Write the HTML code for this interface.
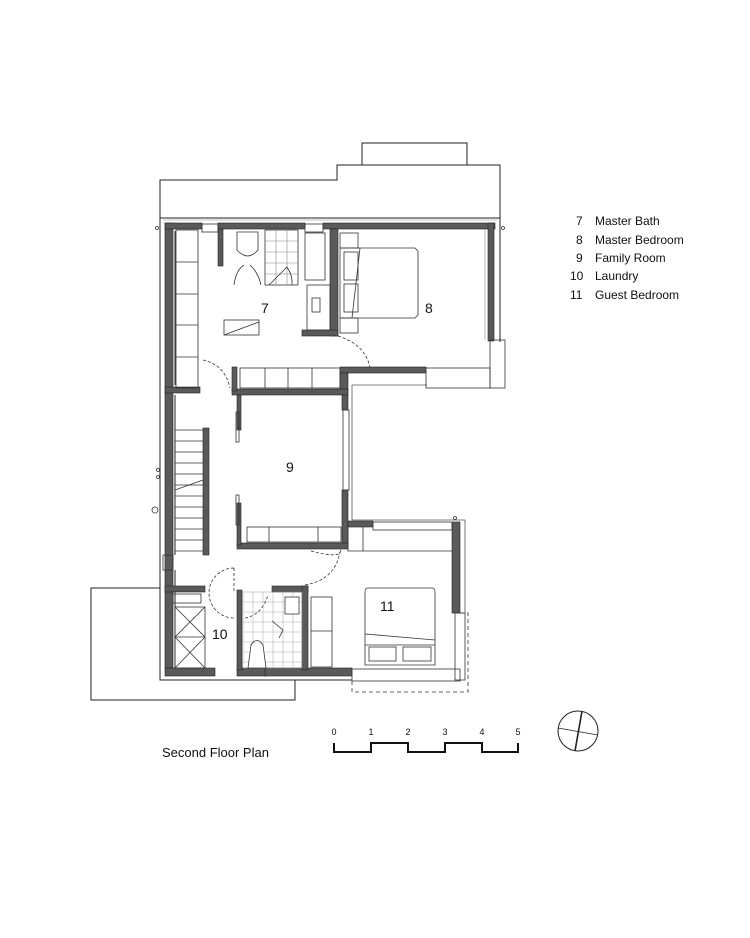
<!DOCTYPE html>
<html><head><meta charset="utf-8"><style>
html,body{margin:0;padding:0;background:#fff;}
svg{display:block;font-family:"Liberation Sans",Arial,sans-serif;}
</style></head><body>
<svg width="750" height="938" viewBox="0 0 750 938" xmlns="http://www.w3.org/2000/svg">
<g fill="none" stroke="#222" stroke-width="1">
<path d="M362,165 V143 H467 V165"/>
<path d="M160,218 V180 H337 V165 H500 V218"/>
<path d="M160,588 H91 V700 H295 V680"/>
<path d="M160,218 V680 H352"/>
<path d="M160,218 H500 V342"/>
<path d="M175,231 V385 M175,395 V555 M175,570 V668"/>
<path d="M352,385 V520 H465 V613 M352,385 H427" stroke="#555" stroke-width="0.8"/>
<path d="M163,220 H498 M485,229 V340" stroke="#888" stroke-width="0.6"/>
</g>
<g fill="#5a5a5a" stroke="#222" stroke-width="0.6">
<rect x="165" y="223" width="8" height="445"/>
<rect x="165" y="223" width="37" height="6"/>
<rect x="218" y="223" width="87" height="6"/>
<rect x="323" y="223" width="172" height="6"/>
<rect x="488" y="223" width="6" height="118"/>
<rect x="218" y="229" width="5" height="37"/>
<rect x="330" y="229" width="8" height="107"/>
<rect x="302" y="330" width="36" height="6"/>
<rect x="340" y="367" width="86" height="6"/>
<rect x="340" y="373" width="8" height="20"/>
<rect x="232" y="389" width="116" height="6"/>
<rect x="165" y="387" width="35" height="6"/>
<rect x="342" y="395" width="6" height="15"/>
<rect x="342" y="490" width="6" height="55"/>
<rect x="237" y="543" width="111" height="6"/>
<rect x="237" y="395" width="4" height="35"/>
<rect x="237" y="503" width="4" height="42"/>
<rect x="348" y="521" width="25" height="6"/>
<rect x="452" y="522" width="8" height="91"/>
<rect x="165" y="668" width="50" height="8"/>
<rect x="237" y="668" width="30" height="8"/>
<rect x="265" y="668" width="87" height="8"/>
<rect x="165" y="586" width="40" height="6"/>
<rect x="237" y="590" width="5" height="80"/>
<rect x="272" y="586" width="36" height="6"/>
<rect x="302" y="586" width="6" height="84"/>
<rect x="203" y="428" width="6" height="127"/>
<rect x="232" y="367" width="5" height="24"/>
</g>
<g fill="none" stroke="#333" stroke-width="0.8">
<rect x="202" y="224" width="16" height="8"/>
<rect x="305" y="224" width="18" height="8"/>
<rect x="426" y="368" width="64" height="20"/>
<rect x="490" y="340" width="15" height="48"/>
<rect x="343" y="410" width="6" height="80"/>
<rect x="373" y="522" width="79" height="8"/>
<rect x="352" y="669" width="108" height="12"/>
<rect x="455" y="613" width="10" height="67"/>
<rect x="163" y="555" width="10" height="15"/>
<rect x="176" y="230" width="22" height="158"/>
<path d="M176,262 H198 M176,294 H198 M176,325 H198 M176,357 H198"/>
<rect x="240" y="368" width="100" height="20"/>
<path d="M265,368 V388 M288,368 V388 M312,368 V388"/>
<path d="M237,232 H258 V250 Q248,262 237,250 Z"/>
<rect x="265" y="230" width="33" height="55"/>
<path d="M276,230 V285 M287,230 V285 M265,241 H298 M265,252 H298 M265,263 H298 M265,274 H298" stroke="#888" stroke-width="0.6"/>
<path d="M269,285 L287,267 M287,267 Q293,276 292,285"/>
<path d="M234,285 Q236,270 244,265 M250,265 Q258,272 261,285"/>
<rect x="305" y="233" width="20" height="47"/>
<rect x="307" y="285" width="23" height="45"/>
<rect x="312" y="298" width="8" height="14"/>
<rect x="224" y="320" width="35" height="15"/>
<path d="M224,335 L259,322"/>
<path d="M340,248 H415 L418,251 V315 L415,318 H340 Z"/>
<rect x="344" y="252" width="14" height="28"/>
<rect x="344" y="284" width="14" height="28"/>
<path d="M360,248 L352,318"/>
<rect x="340" y="233" width="18" height="15"/>
<rect x="340" y="318" width="18" height="15"/>
<path d="M203,360 Q225,365 230,388" stroke-dasharray="3,2"/>
<path d="M338,336 Q366,345 370,368" stroke-dasharray="3,2"/>
<rect x="247" y="527" width="94" height="15"/>
<path d="M269,527 V542 M318,527 V542"/>
<rect x="236" y="412" width="3" height="30"/>
<rect x="236" y="495" width="3" height="30"/>
<path d="M175,430 H203 M175,441 H203 M175,452 H203 M175,463 H203 M175,474 H203 M175,485 H203 M175,496 H203 M175,507 H203 M175,518 H203 M175,529 H203 M175,540 H203 M175,551 H203"/>
<path d="M175,490 L203,480"/>
<path d="M348,527 V551 H452 M363,527 V551" />
<path d="M368,588 H432 Q435,588 435,592 V665 H365 V592 Q365,588 368,588 Z"/>
<path d="M365,634 L435,640 M365,645 H435"/>
<rect x="369" y="647" width="27" height="14"/>
<rect x="403" y="647" width="28" height="14"/>
<rect x="311" y="597" width="21" height="70"/>
<path d="M311,631 H332"/>
<path d="M311,551 Q345,560 340,548" stroke-dasharray="3,2"/>
<path d="M305,585 Q335,580 340,552" stroke-dasharray="3,2"/>
<rect x="173" y="594" width="28" height="9"/>
<rect x="175" y="607" width="30" height="61"/>
<path d="M175,607 L205,637 M205,607 L175,637 M175,637 L205,668 M205,637 L175,668 M175,637 H205"/>
<path d="M234,568 A25,25 0 1,0 234,618" stroke-dasharray="3,2"/>
<path d="M234,568 V592" stroke-dasharray="3,2"/>
<rect x="243" y="592" width="59" height="76" stroke="#999" stroke-width="0.5"/>
<path d="M253,592 V668 M263,592 V668 M273,592 V668 M283,592 V668 M293,592 V668 M243,602 H302 M243,612 H302 M243,622 H302 M243,632 H302 M243,642 H302 M243,652 H302 M243,662 H302" stroke="#aaa" stroke-width="0.5"/>
<rect x="285" y="597" width="14" height="17" fill="#fff"/>
<path d="M248,668 L251,645 Q257,636 263,645 L266,668 Z" fill="#fff"/>
<path d="M245,618 Q262,615 268,595" stroke-dasharray="3,2"/>
<path d="M272,621 L283,630 L279,638"/>
<path d="M352,681 V692 H468 V613 H460" stroke-dasharray="4,3"/>
<circle cx="157" cy="228" r="1.5"/><circle cx="503" cy="228" r="1.5"/>
<circle cx="158" cy="470" r="1.5"/><circle cx="158" cy="477" r="1.5"/>
<circle cx="155" cy="510" r="3"/>
<circle cx="455" cy="518" r="1.5"/>
</g>
<g font-size="14" fill="#111">
<text x="261" y="313">7</text>
<text x="425" y="313">8</text>
<text x="286" y="472">9</text>
<text x="212" y="639">10</text>
<text x="380" y="611">11</text>
</g>
<g font-size="12" fill="#111">
<text x="576" y="225">7</text><text x="595" y="225">Master Bath</text>
<text x="576" y="244">8</text><text x="595" y="244">Master  Bedroom</text>
<text x="576" y="262">9</text><text x="595" y="262">Family Room</text>
<text x="570" y="280">10</text><text x="595" y="280">Laundry</text>
<text x="570" y="299">11</text><text x="595" y="299">Guest Bedroom</text>
</g>
<text x="162" y="757" font-size="13" fill="#111">Second Floor Plan</text>
<g font-size="9" fill="#111" text-anchor="middle">
<text x="334" y="735">0</text><text x="371" y="735">1</text><text x="408" y="735">2</text>
<text x="445" y="735">3</text><text x="482" y="735">4</text><text x="518" y="735">5</text>
</g>
<path d="M334,743 V752 H371 V743 H408 V752 H445 V743 H482 V752 H518 V743" fill="none" stroke="#111" stroke-width="2"/>
<g fill="none" stroke="#222">
<circle cx="578" cy="731" r="20"/>
<path d="M582,711 L575,751" stroke-width="1.6"/>
<path d="M558,728 L598,735" stroke-width="0.8"/>
</g>
</svg>
</body></html>
